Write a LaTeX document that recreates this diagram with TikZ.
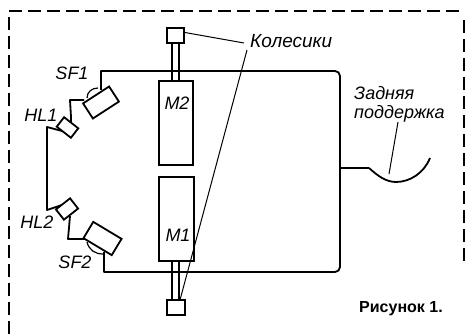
\documentclass[tikz,border=0pt]{standalone}
\usepackage{fontspec}
\setmainfont{Liberation Sans}
\begin{document}
\begin{tikzpicture}[x=1pt,y=-1pt,
  wire/.style={line width=1.8pt,line join=round},
  leader/.style={line width=1pt},
  frameline/.style={line width=1.8pt,dash pattern=on 13pt off 6pt},
  box/.style={draw,line width=1.8pt,inner sep=0pt,minimum width=#1},
  lab/.style={font=\itshape\fontsize{18}{20}\selectfont,inner sep=0pt},
  labw/.style={font=\itshape\fontsize{18}{20}\selectfont,inner sep=0pt,anchor=west}]
\useasboundingbox (0,0) rectangle (465,334);
% frame
\coordinate (fa) at (9,334); \coordinate (fb) at (9,11);
\coordinate (fc) at (465,11); \coordinate (fd) at (464,20); \coordinate (fe) at (464,265);
\draw[frameline] (fa) -- (fb) -- (fc);
\draw[frameline] (fd) -- (fe);
% motors and wheels
\node[box=34pt,minimum height=84pt] (m2) at (176,123) {};
\node[box=35pt,minimum height=84pt] (m1) at (176.5,219) {};
\node[box=17pt,minimum height=15pt] (wt) at (175.5,35.5) {};
\node[box=18pt,minimum height=15pt] (wb) at (176,307.5) {};
\node[lab] at (177,103) {M2};
\node[lab] at (178,235) {M1};
% wire loop
\coordinate (r1) at (340,71); \coordinate (r2) at (340,272);
\coordinate (t1) at (101,71); \coordinate (b1) at (104,272);
\coordinate (tm) at (200,71); \coordinate (bm) at (200,272);
\coordinate (sfa) at (101,90); \coordinate (sfb) at (104,252);
\draw[wire] (sfa) -- (t1) -- (tm);
\draw[wire,rounded corners=5pt] (tm) -- (r1) -- (r2) -- (bm);
\draw[wire] (bm) -- (b1) -- (sfb);
% switches and lamps
\coordinate (u0) at (84,100); \coordinate (u1) at (70,100); \coordinate (u2) at (71,117);
\coordinate (v1) at (68,239); \coordinate (v2) at (85,239);
\draw[wire] (u0) -- (u1) -- (u2) -- (71,124);
\draw[wire] (70,216) -- (v1) -- (v2);
\coordinate (la) at (47,127); \coordinate (lb) at (47,210);
\coordinate (hs) at (62,131); \coordinate (ht) at (62,205);
\draw[wire] (hs) -- (la) -- (lb) -- (ht);
\node[box=31pt,minimum height=18pt,rotate=33,fill=white] (sf1) at (101,102.5) {};
\node[box=33pt,minimum height=19pt,rotate=-31,fill=white] (sf2) at (102.5,238.5) {};
\node[box=18pt,minimum height=12pt,rotate=-38,fill=white] (hl1) at (67.5,127.5) {};
\node[box=18pt,minimum height=13pt,rotate=38,fill=white] (hl2) at (67,209) {};
% bumps
\draw[line width=1.2pt] (87,98) .. controls (87,92) and (92,88) .. (98,88);
\draw[line width=1.2pt] (87,242) .. controls (89,250) and (95,254) .. (103,254);
% axles
\foreach \ax in {172,179}{
  \coordinate (at) at (\ax,43); \coordinate (am) at (\ax,81);
  \coordinate (an) at (\ax,261); \coordinate (ao) at (\ax,300);
  \draw[wire] (at) -- (am);
  \draw[wire] (an) -- (ao);
}
% rear support
\coordinate (s1) at (369,168); \coordinate (s2) at (430,158); \coordinate (s0) at (340,168);
\draw[line width=2.4pt] (s0) -- (s1);
\draw[wire] (s1) .. controls (378,176) and (386,182) .. (396,182) .. controls (410,182) and (424,173) .. (s2);
% leaders
\node[labw,font=\itshape\fontsize{19}{20}\selectfont] (kol) at (250,41) {Колесики};
\coordinate (k1) at (244,43); \coordinate (k2) at (247,50);
\draw[leader] (wt.east) ++(0,-3) -- (k1);
\draw[leader] (k2) -- (180,300);
\node[labw] (zad) at (354,93.5) {Задняя};
\node[labw] (pod) at (354,114) {поддержка};
\coordinate (z1) at (398,122); \coordinate (z2) at (389,174);
\draw[leader] (z1) -- (z2);
% labels
\node[lab] at (72,73) {SF1};
\node[lab] at (41,115) {HL1};
\node[lab] at (37,222) {HL2};
\node[lab] at (75,262) {SF2};
\node[font=\fontsize{16}{18}\selectfont\bfseries,inner sep=0pt,anchor=west] at (359,309) {Рисунок 1.};
\end{tikzpicture}
\end{document}
